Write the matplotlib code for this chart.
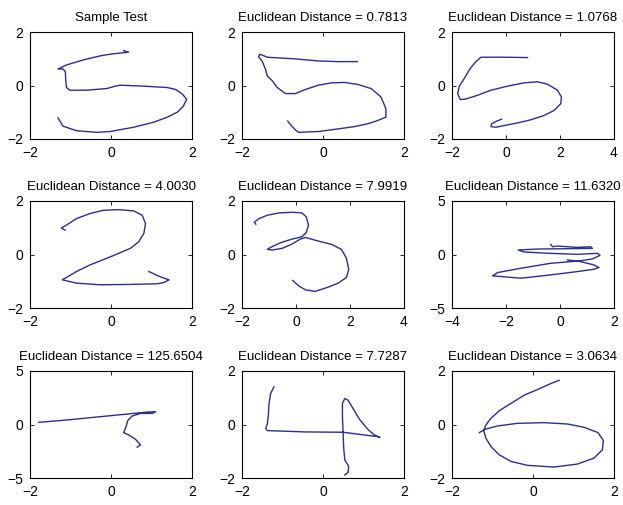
import matplotlib
matplotlib.use("Agg")
import matplotlib.pyplot as plt

plt.rcParams['font.family'] = ['Liberation Sans', 'DejaVu Sans']
plt.rcParams['font.size'] = 9.5

titles = ["Sample Test",
          "Euclidean Distance = 0.7813",
          "Euclidean Distance = 1.0768",
          "Euclidean Distance = 4.0030",
          "Euclidean Distance = 7.9919",
          "Euclidean Distance = 11.6320",
          "Euclidean Distance = 125.6504",
          "Euclidean Distance = 7.7287",
          "Euclidean Distance = 3.0634"]

# trajectories (x, y)
x1 = [0.31, 0.437, 0.187, -0.021, -0.27, -0.686, -1.10, -1.31, -1.185, -1.127, -1.118, -1.10, -1.019, -0.603,
      -0.104, 0.104, 0.228, 0.81, 1.393, 1.60, 1.767, 1.867, 1.784, 1.64, 1.393, 1.06, 0.561, -0.021, -0.353,
      -0.852, -1.185, -1.31]
y1 = [1.30, 1.245, 1.207, 1.17, 1.107, 0.956, 0.767, 0.616, 0.616, 0.516, 0.2, -0.076, -0.176, -0.176,
      -0.113, -0.025, 0.012, -0.025, -0.076, -0.151, -0.327, -0.516, -0.78, -0.994, -1.183, -1.37, -1.56, -1.72,
      -1.75, -1.69, -1.52, -1.21]

x2 = [0.846, 0.374, -0.114, -0.683, -1.089, -1.374, -1.561, -1.593, -1.496, -1.415, -1.374, -1.252, -1.13,
      -0.927, -0.683, -0.439, -0.114, 0.211, 0.537, 0.862, 1.187, 1.431, 1.553, 1.553, 1.35, 1.106, 0.78, 0.374,
      -0.114, -0.602, -0.683, -0.805, -0.87]
y2 = [0.893, 0.893, 0.918, 0.994, 1.03, 1.057, 1.17, 1.082, 0.893, 0.579, 0.352, 0.176, -0.076,
      -0.302, -0.302, -0.151, 0.012, 0.1, 0.113, 0.038, -0.113, -0.428, -0.868, -1.183, -1.31, -1.43, -1.535,
      -1.623, -1.72, -1.75, -1.66, -1.46, -1.33]

x3 = [0.797, -0.066, -0.928, -1.113, -1.322, -1.544, -1.729, -1.79, -1.692, -1.483, -1.051, -0.558, 0.057,
      0.673, 1.166, 1.536, 1.906, 2.053, 2.029, 1.782, 1.413, 0.92, 0.427, -0.066, -0.374, -0.558, -0.534,
      -0.337, -0.165]
y3 = [1.044, 1.057, 1.057, 0.893, 0.641, 0.264, -0.025, -0.302, -0.528, -0.503, -0.365, -0.176, -0.025,
      0.1, 0.138, 0.05, -0.176, -0.428, -0.68, -0.931, -1.12, -1.283, -1.397, -1.497, -1.56, -1.535, -1.434,
      -1.33, -1.258]

x4 = [-1.135, -1.227, -1.102, -0.852, -0.52, -0.187, 0.187, 0.561, 0.769, 0.852, 0.811, 0.686, 0.478, 0.229,
      -0.104, -0.52, -0.852, -1.102, -1.202, -1.102, -0.852, -0.27, 0.395, 1.143, 1.31, 1.434, 1.31, 1.143, 0.936]
y4 = [0.911, 0.997, 1.096, 1.344, 1.53, 1.653, 1.678, 1.629, 1.468, 1.158, 0.787, 0.477, 0.23, 0.069,
      -0.142, -0.39, -0.637, -0.86, -0.946, -0.984, -1.07, -1.132, -1.12, -1.095, -1.046, -0.947, -0.885,
      -0.785, -0.637]

x5 = [-1.488, -1.549, -1.366, -1.061, -0.634, -0.146, 0.22, 0.379, 0.464, 0.379, 0.22, -0.146, -0.573, -0.939,
      -1.061, -0.878, -0.512, -0.146, 0.159, 0.342, 0.83, 1.318, 1.684, 1.867, 1.953, 1.867, 1.562, 1.196, 0.708,
      0.342, 0.098, -0.122]
y5 = [1.133, 1.208, 1.344, 1.468, 1.554, 1.579, 1.554, 1.406, 1.096, 0.824, 0.663, 0.576, 0.44, 0.267,
      0.192, 0.168, 0.23, 0.39, 0.576, 0.638, 0.502, 0.378, 0.192, -0.142, -0.55, -0.86, -1.07, -1.219, -1.38,
      -1.318, -1.17, -0.971]

x6 = [-0.341, -0.279, -0.095, 0.645, 1.137, 1.199, 0.275, -0.834, -1.548, -1.327, -0.341, 0.645, 1.384, 1.482,
      1.199, 0.706, -0.341, -1.45, -2.312, -2.497, -2.189, -1.45, -0.341, 0.645, 1.26, 1.445, 1.26, 0.706, 0.275]
y6 = [0.944, 0.728, 0.79, 0.666, 0.728, 0.573, 0.542, 0.511, 0.418, 0.232, 0.108, 0.016, 0.108, -0.077,
      -0.418, -0.604, -0.82, -1.285, -1.687, -1.997, -2.06, -2.214, -1.904, -1.594, -1.378, -1.223, -0.975,
      -0.635, -0.511]

x7 = [-1.784, -1.102, -0.27, 0.395, 0.894, 1.102, 1.019, 0.728, 0.52, 0.412, 0.378, 0.312, 0.437, 0.603,
      0.728, 0.645]
y7 = [0.201, 0.418, 0.728, 0.975, 1.161, 1.192, 1.037, 1.037, 0.789, 0.356, -0.139, -0.759, -0.975, -1.378,
      -1.904, -2.121]

x8 = [-1.211, -1.293, -1.333, -1.35, -1.374, -1.415, -1.374, -0.439, 0.496, 0.943, 1.35, 1.406, 1.268, 1.106,
      0.902, 0.74, 0.618, 0.537, 0.48, 0.48, 0.496, 0.512, 0.537, 0.634, 0.618, 0.537]
y8 = [1.406, 1.158, 0.787, 0.353, 0.019, -0.142, -0.228, -0.278, -0.29, -0.377, -0.451, -0.488, -0.39,
      -0.179, 0.192, 0.601, 0.911, 0.972, 0.787, 0.292, -0.327, -0.885, -1.318, -1.566, -1.789, -1.888]

x9 = [0.645, 0.44, 0.111, -0.218, -0.546, -0.834, -1.039, -1.162, -1.22, -1.162, -1.039, -0.834, -0.546,
      -0.135, 0.522, 1.097, 1.507, 1.713, 1.737, 1.606, 1.261, 0.85, 0.275, -0.382, -0.875, -1.187, -1.326]
y9 = [1.653, 1.53, 1.307, 1.096, 0.787, 0.514, 0.23, -0.018, -0.228, -0.513, -0.823, -1.132, -1.38,
      -1.528, -1.59, -1.479, -1.256, -0.946, -0.6, -0.303, -0.105, 0.019, 0.069, 0.044, -0.055, -0.179, -0.303]

xs = [x1, x2, x3, x4, x5, x6, x7, x8, x9]
ys = [y1, y2, y3, y4, y5, y6, y7, y8, y9]

xlims = [(-2, 2), (-2, 2), (-2, 4), (-2, 2), (-2, 4), (-4, 2), (-2, 2), (-2, 2), (-2, 2)]
ylims = [(-2, 2), (-2, 2), (-2, 2), (-2, 2), (-2, 2), (-5, 5), (-5, 5), (-2, 2), (-2, 2)]
xtick_sets = [[-2, 0, 2], [-2, 0, 2], [-2, 0, 2, 4], [-2, 0, 2], [-2, 0, 2, 4], [-4, -2, 0, 2],
              [-2, 0, 2], [-2, 0, 2], [-2, 0, 2]]
ytick_sets = [[-2, 0, 2], [-2, 0, 2], [-2, 0, 2], [-2, 0, 2], [-2, 0, 2], [-5, 0, 5],
              [-5, 0, 5], [-2, 0, 2], [-2, 0, 2]]

fig = plt.figure(figsize=(6.23, 5.05), dpi=100)

lefts = [30 / 623, 242 / 623, 452 / 623]
bottoms = [1 - 139 / 505, 1 - 308 / 505, 1 - 478 / 505]
w = 162 / 623
h = 107 / 505

for i in range(9):
    r, c = divmod(i, 3)
    ax = fig.add_axes([lefts[c], bottoms[r], w, h])
    ax.plot(xs[i], ys[i], color='#2e2e8f', linewidth=1.0)
    ax.set_xlim(*xlims[i])
    ax.set_ylim(*ylims[i])
    ax.set_xticks(xtick_sets[i])
    ax.set_yticks(ytick_sets[i])
    ax.tick_params(direction='in', length=3, width=0.6, top=True, right=True,
                   labelsize=10, pad=5)
    for s in ax.spines.values():
        s.set_linewidth(0.8)
    ax.set_title(titles[i], fontsize=9.5, pad=8)

fig.savefig("out.png", dpi=100)
